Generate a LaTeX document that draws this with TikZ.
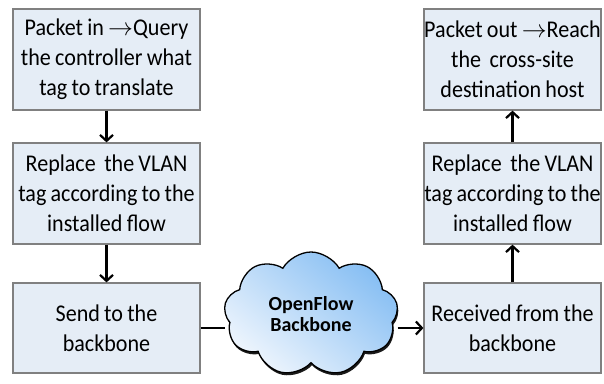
\documentclass[tikz,border=0pt]{standalone}
\usepackage{fontspec}
\setmainfont{Carlito}[FakeStretch=0.92,WordSpace=0.85]
\newfontfamily\cloudfont{Carlito}
\usetikzlibrary{shapes.symbols,shadows,arrows.meta}
\definecolor{boxfill}{HTML}{E5EDF6}
\definecolor{boxline}{HTML}{808080}
\definecolor{cloudtop}{HTML}{86BEF3}
\definecolor{cloudlow}{HTML}{EEF5FD}
\tikzset{
	stepbox/.style={draw=boxline,line width=1.2pt,fill=boxfill,
		minimum width=187pt,minimum height=101pt,
		align=center,inner sep=0pt,font=\fontsize{24}{30}\selectfont},
	shortbox/.style={stepbox,minimum height=90pt},
	rbox/.style={minimum width=177pt},
	backbone/.style={cloud,cloud puffs=9,cloud puff arc=120,aspect=1.35,
		draw=black,line width=1.3pt,minimum width=174pt,minimum height=124pt,
		left color=cloudtop,right color=cloudlow,shading angle=-40,
		drop shadow={shadow xshift=1pt,shadow yshift=-2.5pt,opacity=.9,fill=black},
		align=center,font=\cloudfont\fontsize{20}{21}\selectfont\bfseries}
}
\begin{document}
\begin{tikzpicture}[x=1pt,y=-1pt,>={Straight Barb[length=6pt,width=13pt]}]
	\useasboundingbox (0,0) rectangle (604,383);
	% left column: incoming side
	\path
	(106.5,59.5) node[stepbox] (in) {Packet in $\rightarrow$Query\\the controller what\\tag to translate}
	++(0,134) node[stepbox] (lrep) {Replace~ the VLAN\\tag according to the\\installed flow}
	++(0,134.5) node[shortbox] (send) {Send to the\\backbone}
	;
	% right column: outgoing side
	\path
	(512.5,59.5) node[stepbox,rbox] (out) {Packet out $\rightarrow$Reach\\the~ cross-site\\destination host}
	++(0,134) node[stepbox,rbox] (rrep) {Replace~ the VLAN\\tag according to the\\installed flow}
	++(0,134.5) node[shortbox,rbox] (recv) {Received from the\\backbone}
	;
	\node[backbone] (of) at (311,314) {OpenFlow\\Backbone};
	\draw[->,line width=2.2pt] (in)--(lrep);
	\draw[->,line width=2.2pt] (lrep)--(send);
	\draw[->,line width=2.2pt] (recv)--(rrep);
	\draw[->,line width=2.2pt] (rrep)--(out);
	\draw[line width=2.2pt] (send.east)--(send.east -| of.west);
	\draw[->,line width=2.2pt] (recv.west -| of.east)--(recv.west);
\end{tikzpicture}
\end{document}
